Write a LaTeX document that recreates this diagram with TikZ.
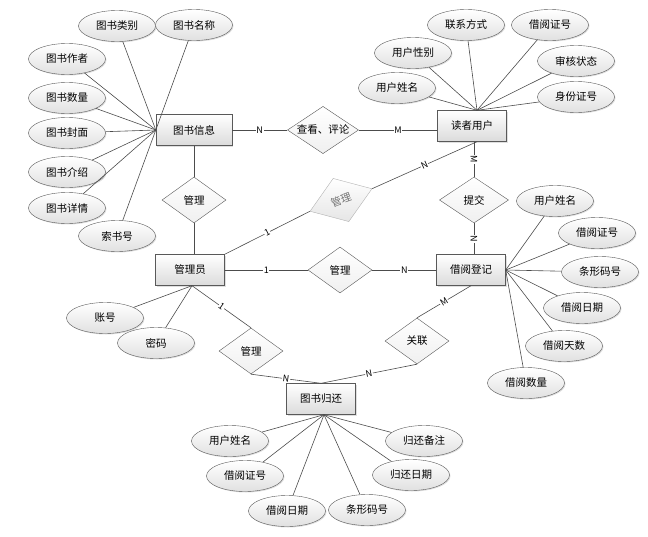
\documentclass[tikz,border=0pt]{standalone}
\usepackage{fontspec}
\setmainfont{Noto Sans CJK SC}
\usepackage{tikz}
\usetikzlibrary{shapes.geometric,shadows}

\tikzset{
  entity/.style={rectangle, draw=black!65, top color=white, bottom color=black!14,
    minimum width=69pt, minimum height=31pt, inner sep=0pt,
    drop shadow={shadow xshift=1pt, shadow yshift=-1pt, opacity=0.25}},
  attr/.style={ellipse, draw=black!65, top color=white, bottom color=black!12,
    minimum width=77pt, minimum height=31pt, inner sep=0pt,
    drop shadow={shadow xshift=1pt, shadow yshift=-1pt, opacity=0.25}},
  rel/.style={diamond, draw=black!65, top color=white, bottom color=black!6,
    aspect=1.4, minimum width=64pt, minimum height=46pt, inner sep=0pt},
  card/.style={font=\fontsize{9}{10}\selectfont, fill=white, inner sep=0.6pt, sloped},
  link/.style={draw=black!70, line width=0.6pt}
}

\begin{document}
\begin{tikzpicture}[x=1pt, y=-1pt, font=\fontsize{10.5}{12}\selectfont]
\useasboundingbox (0,0) rectangle (648,536);

% entities
\node[entity, minimum width=76pt] (bookinfo) at (194,130) {图书信息};
\node[entity] (reader) at (472,126) {读者用户};
\node[entity] (admin) at (190,270) {管理员};
\node[entity] (borrow) at (471,270) {借阅登记};
\node[entity] (giveback) at (321,399) {图书归还};

% relations
\node[rel, minimum width=71pt, minimum height=47pt] (view) at (323,130) {查看、评论};
\node[rel] (mbook) at (194,200) {管理};
\node[rel, draw=black!30, top color=white, bottom color=black!10, text=black!55,
  rotate=20, minimum width=66pt] (mreader) at (341,200) {管理};
\node[rel, minimum width=69pt] (submit) at (474,200) {提交};
\node[rel] (mborrow) at (340,270) {管理};
\node[rel] (relate) at (417,341) {关联};
\node[rel] (mback) at (251,351) {管理};

% attributes of 图书信息
\node[attr] (bcat) at (117,26) {图书类别};
\node[attr] (bname) at (194,25) {图书名称};
\node[attr] (bauthor) at (67,59) {图书作者};
\node[attr] (bnum) at (67,98) {图书数量};
\node[attr] (bcover) at (67,133) {图书封面};
\node[attr] (bintro) at (67,172) {图书介绍};
\node[attr] (bdetail) at (67,208) {图书详情};
\node[attr] (bindex) at (117,236) {索书号};
\foreach \a in {bcat,bname,bauthor,bnum,bcover,bintro,bdetail,bindex}
  \draw[link] (\a) -- (bookinfo.west);

% attributes of 读者用户
\node[attr] (rphone) at (466,25) {联系方式};
\node[attr] (rcard) at (550,25) {借阅证号};
\node[attr] (rsex) at (413,53) {用户性别};
\node[attr] (rcheck) at (576,61) {审核状态};
\node[attr] (rname) at (397,88) {用户姓名};
\node[attr] (rid) at (576,97) {身份证号};
\foreach \a in {rphone,rcard,rsex,rcheck,rname,rid}
  \draw[link] (\a) -- ([xshift=5pt]reader.north);

% attributes of 借阅登记
\node[attr] (jname) at (555,201) {用户姓名};
\node[attr] (jcard) at (597,233) {借阅证号};
\node[attr] (jcode) at (600,272) {条形码号};
\node[attr] (jdate) at (582,308) {借阅日期};
\node[attr] (jdays) at (564,346) {借阅天数};
\node[attr] (jnum) at (526,383) {借阅数量};
\foreach \a in {jname,jcard,jcode,jdate,jdays,jnum}
  \draw[link] (\a) -- (borrow.east);

% attributes of 管理员
\node[attr] (aacc) at (105,318) {账号};
\node[attr] (apwd) at (156,343) {密码};
\foreach \a in {aacc,apwd}
  \draw[link] (\a) -- ([xshift=2pt]admin.south);

% attributes of 图书归还
\node[attr] (gname) at (230,441) {用户姓名};
\node[attr] (gcard) at (245,476) {借阅证号};
\node[attr] (gdate) at (287,511) {借阅日期};
\node[attr] (gcode) at (367,510) {条形码号};
\node[attr] (gback) at (411,475) {归还日期};
\node[attr] (gnote) at (424,441) {归还备注};
\foreach \a in {gname,gcard,gdate,gcode,gback,gnote}
  \draw[link] (\a) -- ([xshift=3pt]giveback.south);

% relationships
\draw[link] (bookinfo) -- node[card] {N} (view);
\draw[link] (view) -- node[card] {M} (reader.west |- view.east);
\draw[link] (bookinfo) -- (mbook);
\draw[link] (mbook) -- (mbook |- admin.north);
\draw[link] (admin.north east) -- node[card] {1} (mreader.west);
\draw[link] (mreader.east) -- node[card] {N} ([xshift=5pt]reader.south);
\draw[link] (reader.south -| submit.north) -- node[card] {M} (submit);
\draw[link] (submit) -- node[card] {N} (borrow.north -| submit.south);
\draw[link] (admin) -- node[card] {1} (mborrow);
\draw[link] (mborrow) -- node[card] {N} (borrow);
\draw[link] (borrow.south) -- node[card] {M} (relate.north);
\draw[link] (relate.south) -- node[card] {N} (giveback.north);
\draw[link] ([xshift=2pt]admin.south) -- node[card] {1} (mback.north);
\draw[link] (mback.south) -- node[card] {N} (giveback.north);
\end{tikzpicture}
\end{document}
